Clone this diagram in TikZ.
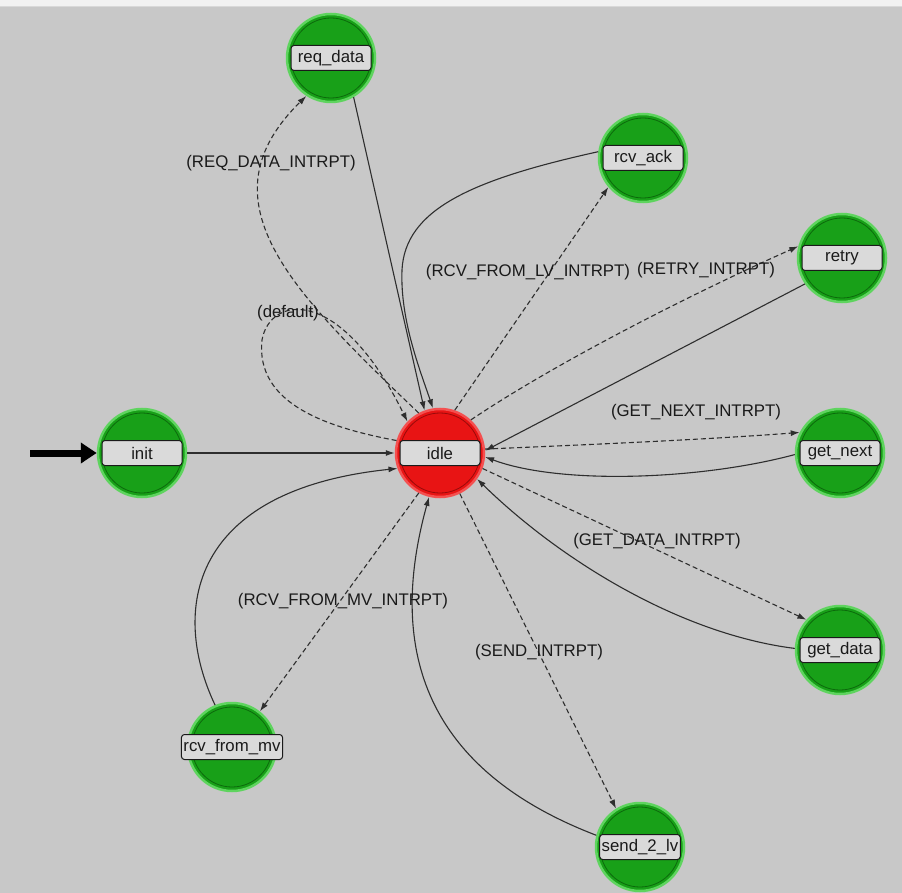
\documentclass[tikz,border=0pt]{standalone}
\usepackage{fontspec}
\setmainfont{Liberation Sans}
\usepackage{xcolor}
\usepackage{tikz}
\usetikzlibrary{positioning,calc,arrows.meta}
\definecolor{ground}{HTML}{C8C8C8}
\definecolor{edge}{HTML}{F2F2F2}
\definecolor{leaf}{HTML}{18A018}
\definecolor{leafii}{HTML}{5ED45E}
\definecolor{leafiii}{HTML}{0C6A0C}
\definecolor{hot}{HTML}{E81414}
\definecolor{hotii}{HTML}{F45050}
\definecolor{hotiii}{HTML}{9A0A0A}
\definecolor{tagfill}{HTML}{DADADA}
\definecolor{ink}{HTML}{1A1A1A}
\definecolor{wire}{HTML}{2E2E2E}
\tikzset{
  stategreen/.style = {circle, fill=leaf, draw=leafii, line width=2.5pt, minimum size=88pt, inner sep=0pt,
                       path picture={\draw[leafiii, line width=0.8pt] (path picture bounding box.center) circle (40pt);}},
  statered/.style   = {circle, fill=hot, draw=hotii, line width=2.5pt, minimum size=88pt, inner sep=0pt,
                       path picture={\draw[hotiii, line width=0.8pt] (path picture bounding box.center) circle (40pt);}},
  tagbox/.style     = {draw=ink, fill=tagfill, line width=1pt, rounded corners=3pt, minimum width=80pt,
                       minimum height=25pt, inner xsep=2pt, inner ysep=0pt,
                       font=\fontsize{16.8}{18}\selectfont\color{ink}},
  cond/.style       = {font=\fontsize{16.8}{18}\selectfont\color{ink}, inner sep=0pt, outer sep=0pt},
  solidedge/.style  = {-{Latex[length=9pt,width=6pt]}, draw=wire, line width=1.1pt},
  dashedge/.style   = {-{Latex[length=9pt,width=6pt]}, draw=wire, line width=1.1pt, dash pattern=on 5pt off 3pt},
  entry/.style      = {-{Triangle[length=16pt,width=20pt]}, draw=black, line width=7pt},
}
\begin{document}
\begin{tikzpicture}[x=1pt,y=-1pt]
\path[use as bounding box] (0,0) rectangle (902,893);
\fill[ground] (0,0) rectangle (902,893);
\fill[edge] (0,0) rectangle (902,6);
\draw[white!70!gray, line width=1pt] (0,6.5) -- (902,6.5);

% ---- states -------------------------------------------------------------
\node[stategreen] (init)     at (142,453) {};
\node[statered]   (idle)     at (440,453) {};
\node[stategreen] (reqdata)  at (331,58)  {};
\node[stategreen] (rcvack)   at (643,158) {};
\node[stategreen] (retry)    at (842,258) {};
\node[stategreen] (getnext)  at (840,453) {};
\node[stategreen] (getdata)  at (840,650) {};
\node[stategreen] (rcvmv)    at (232,747) {};
\node[stategreen] (sendlv)   at (640,847) {};

\node[tagbox] (init-tag)    at (init)    {init};
\node[tagbox] (idle-tag)    at (idle)    {idle};
\node[tagbox] (reqdata-tag) at (reqdata) {req\_data};
\node[tagbox] (rcvack-tag)  at (rcvack)  {rcv\_ack};
\node[tagbox] (retry-tag)   at (retry)   {retry};
\node[tagbox] (getnext-tag) at (getnext) {get\_next};
\node[tagbox] (getdata-tag) at (getdata) {get\_data};
\node[tagbox] (rcvmv-tag)   at (rcvmv)   {rcv\_from\_mv};
\node[tagbox] (sendlv-tag)  at (sendlv)  {send\_2\_lv};

% ---- entry --------------------------------------------------------------
\coordinate (start) at (30,453);
\draw[entry] (start) -- (init.west);

% ---- transitions --------------------------------------------------------
\draw[solidedge] (init.east) -- (idle.west);

\draw[dashedge] (idle.118) .. controls (290,290) and (200,200) .. (reqdata.237);
\draw[solidedge] (reqdata.300) -- (idle.110);

\draw[dashedge] (idle.164) .. controls (330,428) and (255,405) .. (262,340)
                .. controls (270,295) and (340,285) .. (idle.136);

\draw[dashedge] (idle.71) -- (rcvack.220);
\draw[solidedge] (rcvack.172) .. controls (470,180) and (405,210) .. (402,270)
                 .. controls (400,320) and (420,370) .. (idle.99);

\draw[dashedge] (idle.47) .. controls (560,360) and (700,290) .. (retry.165);
\draw[solidedge] (retry.215) -- (idle.3);

\draw[dashedge] (idle.5) .. controls (580,445) and (700,440) .. (getnext.153);
\draw[solidedge] (getnext.182) .. controls (700,480) and (560,485) .. (idle.355);

\draw[dashedge] (idle.340) -- (getdata.138);
\draw[solidedge] (getdata.178) .. controls (680,634) and (560,560) .. (idle.325);

\draw[dashedge] (idle.296) -- (sendlv.122);
\draw[solidedge] (sendlv.165) .. controls (400,760) and (395,620) .. (idle.256);

\draw[dashedge] (idle.242) -- (rcvmv.52);
\draw[solidedge] (rcvmv.112) .. controls (170,610) and (190,490) .. (idle.200);

% ---- conditions ---------------------------------------------------------
\node[cond] (c-req)    at (271,163) {(REQ\_DATA\_INTRPT)};
\node[cond] (c-def)    at (288,313) {(default)};
\node[cond] (c-lv)     at (528,272) {(RCV\_FROM\_LV\_INTRPT)};
\node[cond] (c-retry)  at (706,270) {(RETRY\_INTRPT)};
\node[cond] (c-next)   at (696,412) {(GET\_NEXT\_INTRPT)};
\node[cond] (c-data)   at (657,541) {(GET\_DATA\_INTRPT)};
\node[cond] (c-mv)     at (343,601) {(RCV\_FROM\_MV\_INTRPT)};
\node[cond] (c-send)   at (539,652) {(SEND\_INTRPT)};

\end{tikzpicture}
\end{document}
